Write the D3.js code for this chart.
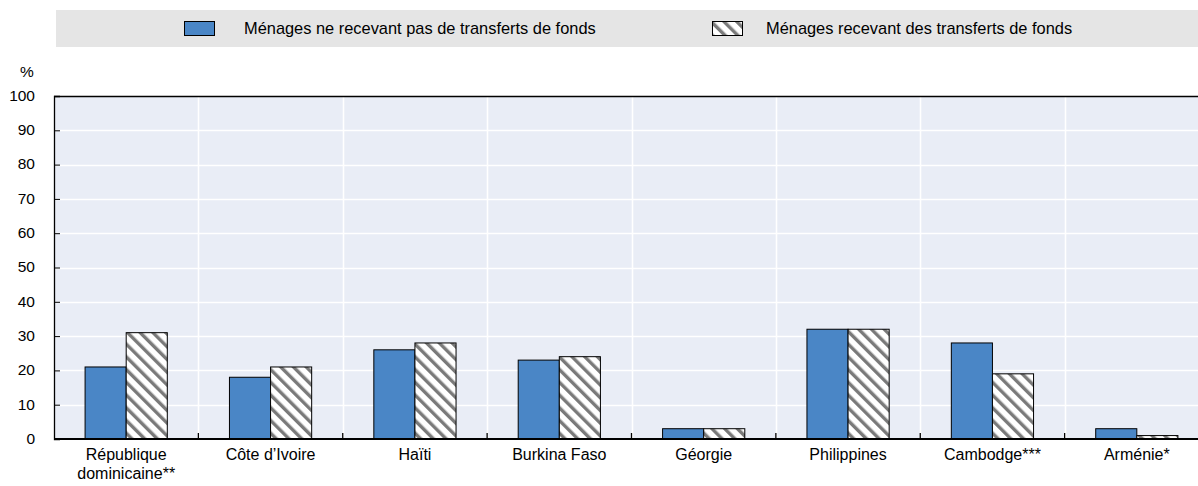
<!DOCTYPE html>
<html>
<head>
<meta charset="utf-8">
<script src="https://cdn.jsdelivr.net/npm/d3@7"></script>
<style>
  body { margin: 0; background: #fff; }
  svg { display: block; font-family: "Liberation Sans", Arial, Helvetica, sans-serif; }
</style>
</head>
<body>
<script>
// categories and values
var countries = ["République dominicaine**", "Côte d'Ivoire", "Haïti", "Burkina Faso", "Géorgie", "Philippines", "Cambodge***", "Arménie*"];
var labelLines = [["République", "dominicaine**"], ["Côte d’Ivoire"], ["Haïti"], ["Burkina Faso"], ["Géorgie"], ["Philippines"], ["Cambodge***"], ["Arménie*"]];
var noRemit = [21, 18, 26, 23, 3, 32, 28, 3];
var withRemit = [31, 21, 28, 24, 3, 32, 19, 1];
var seriesNames = ["Ménages ne recevant pas de transferts de fonds", "Ménages recevant des transferts de fonds"];
var yTicks = [0, 10, 20, 30, 40, 50, 60, 70, 80, 90, 100];

var W = 1198, H = 486;
var margin = {top: 96, left: 54};
var plotW = 1155, plotH = 343;

var svg = d3.select("body").append("svg")
  .attr("width", W).attr("height", H);

var defs = svg.append("defs");
var pat = defs.append("pattern")
  .attr("id", "hatch")
  .attr("patternUnits", "userSpaceOnUse")
  .attr("width", 9).attr("height", 9)
  .attr("patternTransform", "rotate(-45)");
pat.append("rect").attr("width", 9).attr("height", 9).attr("fill", "#fff");
pat.append("rect").attr("x", 0).attr("width", 3.4).attr("height", 9).attr("fill", "#7a7a7a");

// legend band
svg.append("rect")
  .attr("x", 56).attr("y", 10).attr("width", W - 56).attr("height", 37)
  .attr("fill", "#e5e5e5");

var legendItems = [
  {x: 184, tx: 244, fill: "#4a86c6", name: seriesNames[0]},
  {x: 712, tx: 766, fill: "url(#hatch)", name: seriesNames[1]}
];
var lg = svg.selectAll(".lg").data(legendItems).enter().append("g").attr("class", "lg");
lg.append("rect")
  .attr("x", d => d.x + 0.5).attr("y", 21.5).attr("width", 30).attr("height", 14)
  .attr("fill", d => d.fill).attr("stroke", "#000").attr("stroke-width", 1);
lg.append("text")
  .attr("x", d => d.tx).attr("y", 28.5).attr("dy", "0.35em")
  .attr("font-size", 16.4).attr("fill", "#000")
  .text(d => d.name);

var g = svg.append("g").attr("transform", "translate(" + margin.left + "," + margin.top + ")");

var x0 = d3.scaleBand().domain(countries).range([0, plotW]).padding(0);
var x1 = d3.scaleBand().domain([0, 1]).range([0, x0.bandwidth()]).paddingInner(0).paddingOuter(0.756);
var y = d3.scaleLinear().domain([0, 100]).range([plotH, 0]);

g.append("rect").attr("width", plotW).attr("height", plotH).attr("fill", "#e9edf6");

// horizontal gridlines
g.selectAll(".hg").data(yTicks.filter(t => t > 0 && t < 100)).enter().append("line")
  .attr("x1", 0).attr("x2", plotW)
  .attr("y1", d => Math.round(y(d)) + 0.5).attr("y2", d => Math.round(y(d)) + 0.5)
  .attr("stroke", "#fff").attr("stroke-width", 1.6);

// vertical separators
g.selectAll(".vg").data(countries.slice(1)).enter().append("line")
  .attr("x1", d => Math.round(x0(d)) + 0.5).attr("x2", d => Math.round(x0(d)) + 0.5)
  .attr("y1", 0).attr("y2", plotH)
  .attr("stroke", "#fff").attr("stroke-width", 1.6);

// bars
var groups = g.selectAll(".grp").data(countries).enter().append("g")
  .attr("transform", d => "translate(" + x0(d) + ",0)");
groups.selectAll("rect").data((d, i) => [noRemit[i], withRemit[i]]).enter().append("rect")
  .attr("x", (v, j) => x1(j))
  .attr("y", v => y(v))
  .attr("width", x1.bandwidth())
  .attr("height", v => plotH - y(v))
  .attr("fill", (v, j) => j === 0 ? "#4a86c6" : "url(#hatch)")
  .attr("stroke", "#000").attr("stroke-width", 1);

// top border
g.append("line").attr("x1", 0).attr("x2", plotW).attr("y1", 0.5).attr("y2", 0.5)
  .attr("stroke", "#000").attr("stroke-width", 1.3);

// y axis
var yAxis = g.append("g")
  .call(d3.axisLeft(y).tickValues(yTicks).tickSize(-6).tickPadding(19));
yAxis.select(".domain").attr("stroke", "#000").attr("stroke-width", 1.3);
yAxis.selectAll(".tick line").attr("stroke", "#000");
yAxis.selectAll("text").attr("font-size", 15.5).attr("fill", "#000")
  .attr("font-family", null).attr("dy", "0.28em");

svg.append("text").attr("x", 27).attr("y", 72).attr("dy", "0.35em")
  .attr("text-anchor", "middle").attr("font-size", 15.5).text("%");

// x axis baseline with separator ticks
var xAxis = g.append("g").attr("transform", "translate(0," + plotH + ")");
xAxis.append("line").attr("x1", 0).attr("x2", plotW).attr("y1", 0).attr("y2", 0)
  .attr("stroke", "#000").attr("stroke-width", 2);
xAxis.selectAll(".sep").data(countries.slice(1)).enter().append("line")
  .attr("x1", d => x0(d)).attr("x2", d => x0(d))
  .attr("y1", 0).attr("y2", -6)
  .attr("stroke", "#000").attr("stroke-width", 1.3);

var lbl = xAxis.selectAll(".xl").data(countries).enter().append("text")
  .attr("x", d => x0(d) + x0.bandwidth() / 2)
  .attr("y", 10)
  .attr("text-anchor", "middle").attr("font-size", 16).attr("fill", "#000");
lbl.selectAll("tspan").data((d, i) => labelLines[i]).enter().append("tspan")
  .attr("x", function() { return this.parentNode.getAttribute("x"); })
  .attr("dy", (t, k) => k === 0 ? "0.71em" : "1.18em")
  .text(t => t);
</script>
</body>
</html>
